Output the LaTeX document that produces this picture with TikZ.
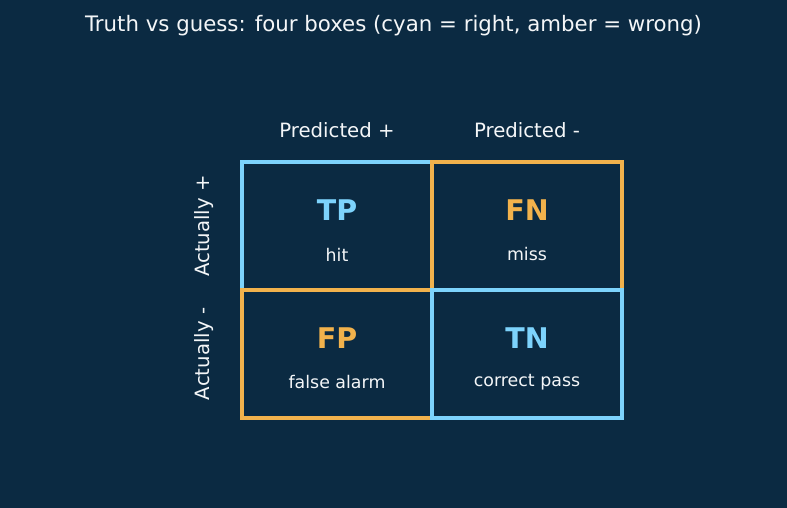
\documentclass[tikz,border=0pt]{standalone}
\usepackage{fontspec}
\setmainfont{DejaVu Sans}
\usepackage{xcolor}
\usetikzlibrary{positioning}

\definecolor{bgnavy}{HTML}{0B2A42}
\definecolor{rightcyan}{HTML}{7DD3FC}
\definecolor{wrongamber}{HTML}{F2B24C}
\definecolor{inkwhite}{HTML}{F4F6F8}

\begin{document}
\begin{tikzpicture}[
  x=1pt, y=1pt,
  cell/.style={draw, line width=3.2pt, minimum width=190pt, minimum height=128pt, inner sep=0pt, outer sep=0pt},
  okcell/.style={cell, draw=rightcyan},
  badcell/.style={cell, draw=wrongamber},
  big/.style={font=\fontsize{28.5}{33}\selectfont\bfseries},
  sub/.style={font=\fontsize{17.4}{21}\selectfont, text=inkwhite},
  head/.style={font=\fontsize{19.7}{24}\selectfont, text=inkwhite}
]
\fill[bgnavy] (0,0) rectangle (787,508);
\useasboundingbox (0,0) rectangle (787,508);

\node[head] (title) at (393.5,482.5) {\fontsize{21.3}{25}\selectfont Truth vs guess: four boxes (cyan = right, amber = wrong)};

% the four boxes
\node[okcell] (tp) at (337,282) {};
\node[badcell, right=0pt of tp] (fn) {};
\node[badcell, below=0pt of tp] (fp) {};
\node[okcell, right=0pt of fp] (tn) {};

\node[big, text=rightcyan] (tpl) at ([yshift=16pt]tp.center) {TP};
\node[sub] (tps) at ([yshift=-28.5pt]tp.center) {hit};
\node[big, text=wrongamber] (fnl) at ([yshift=16pt]fn.center) {FN};
\node[sub] (fns) at ([yshift=-28.5pt]fn.center) {miss};
\node[big, text=wrongamber] (fpl) at ([yshift=16pt]fp.center) {FP};
\node[sub] (fps) at ([yshift=-28.5pt]fp.center) {false alarm};
\node[big, text=rightcyan] (tnl) at ([yshift=16pt]tn.center) {TN};
\node[sub] (tns) at ([yshift=-28.5pt]tn.center) {correct pass};

% headers
\node[head] (predpos) at ([yshift=32pt]tp.north) {Predicted +};
\node[head] (predneg) at ([yshift=32pt]fn.north) {Predicted -};
\node[head, rotate=90] (actpos) at ([xshift=-38pt]tp.west) {Actually +};
\node[head, rotate=90] (actneg) at ([xshift=-38pt]fp.west) {Actually -};
\end{tikzpicture}
\end{document}
